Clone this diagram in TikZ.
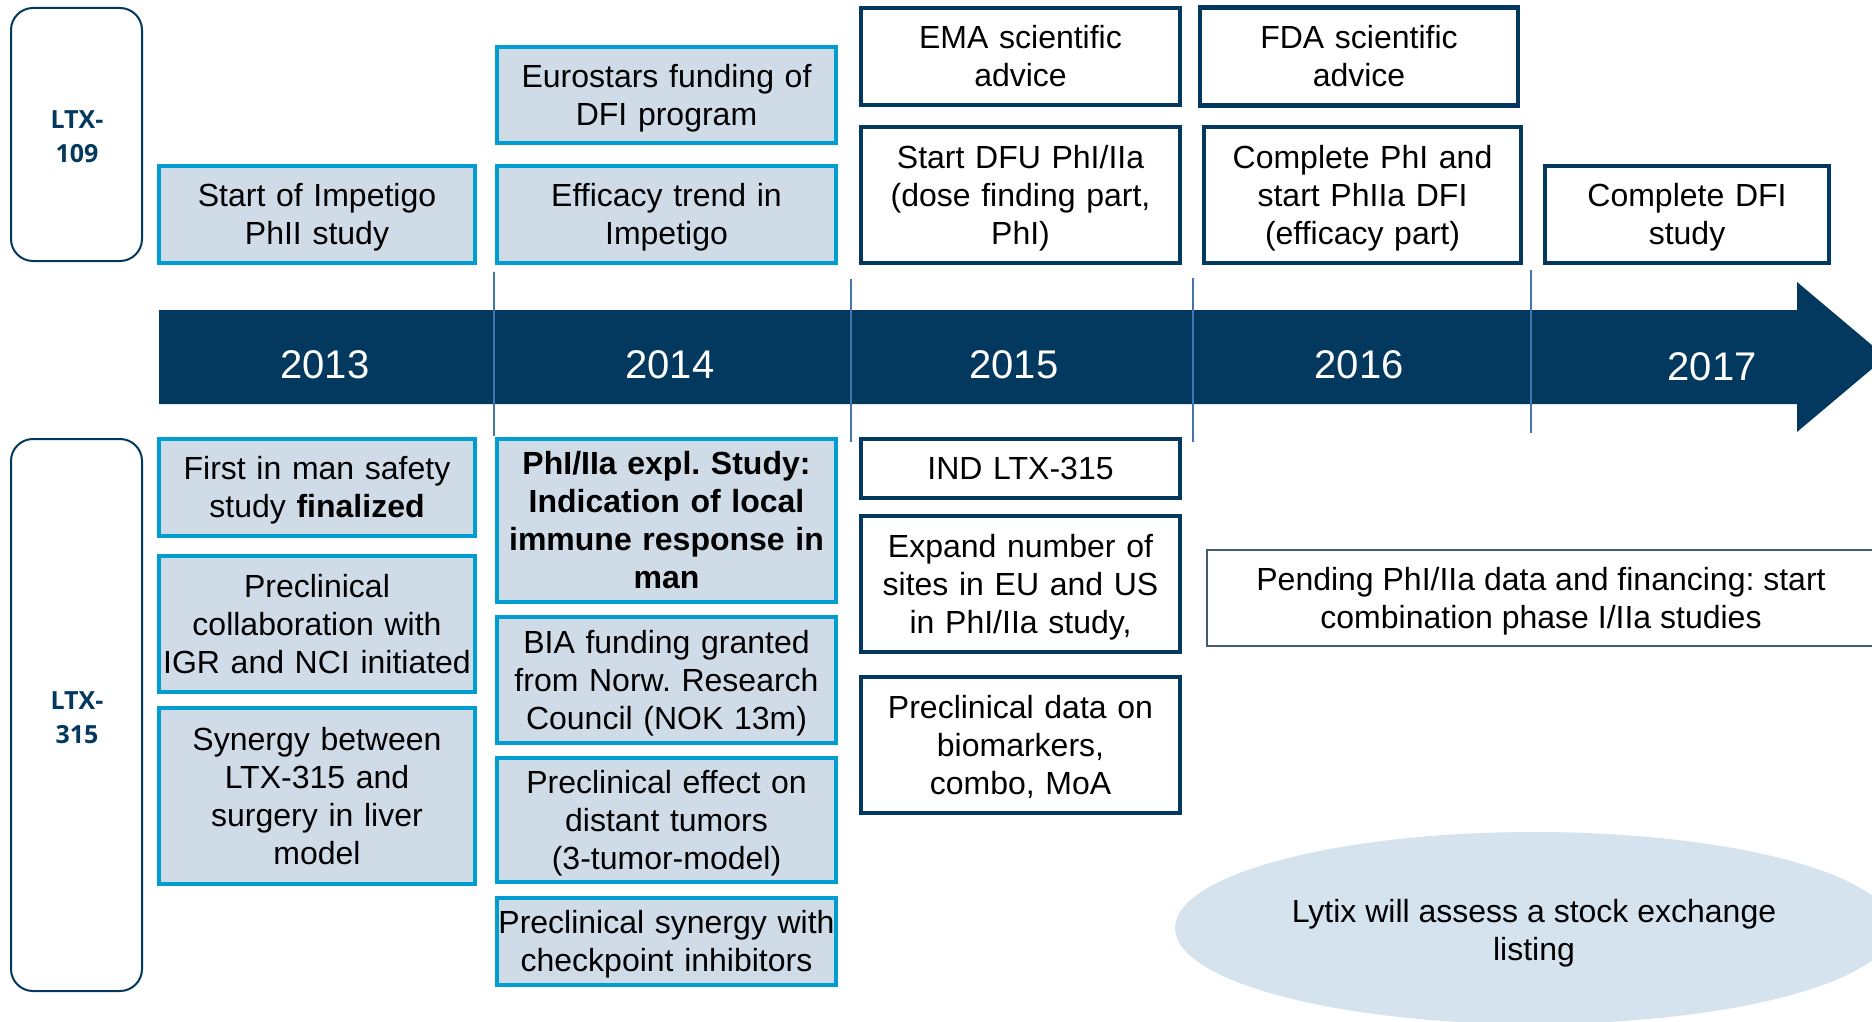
\documentclass[tikz,border=0pt]{standalone}
\usepackage{fontspec}
\setmainfont{Liberation Sans}
\newfontfamily\ltxfont{Open Sans}
\usetikzlibrary{shapes.geometric}
\definecolor{navy}{RGB}{3,57,94}
\definecolor{cyanline}{RGB}{0,157,208}
\definecolor{boxfill}{RGB}{207,220,232}
\definecolor{ovalfill}{RGB}{213,227,238}
\definecolor{divider}{RGB}{70,116,172}
\definecolor{thinedge}{RGB}{70,90,108}
\newcommand\bodyfont{\fontsize{32}{38}\selectfont\frenchspacing}
% struts with the ascent and descent of the text face, so lines sit as in a slide text box
\newcommand\topstrut{\rule{0pt}{0.905em}}
\newcommand\botstrut{\rule[-0.212em]{0pt}{0pt}}
\tikzset{
  x=1pt, y=-1pt,
  mile/.style={align=center, inner sep=0pt, font=\bodyfont, text=black,
    execute at begin node=\topstrut, execute at end node=\botstrut},
  cyanbox/.style={mile, draw=cyanline, line width=4.5pt, fill=boxfill},
  navybox/.style={mile, draw=navy, line width=4.5pt, fill=white},
  sized/.style 2 args={minimum width=#1pt, minimum height=#2pt, text width=#1pt},
  drugbox/.style={draw=navy, line width=2pt, rounded corners=22pt, fill=white},
  druglabel/.style={align=center, text=navy, font=\ltxfont\bfseries\fontsize{25}{34}\selectfont},
  yearlabel/.style={text=white, font=\fontsize{40}{48}\selectfont},
  divline/.style={draw=divider, line width=2.2pt},
}
\begin{document}
\begin{tikzpicture}
\useasboundingbox (0,0) rectangle (1872,1022);
\clip (0,0) rectangle (1872,1022);

% product lanes
\draw[drugbox] (11,8) rectangle (142,261);
\node[druglabel] (ltx109) at (77,137) {LTX-\\109};
\draw[drugbox] (11,439) rectangle (142,991);
\node[druglabel] (ltx315) at (77,718) {LTX-\\315};

% timeline arrow
\fill[navy] (159,310) -- (1797,310) -- (1797,282) -- (1886,357)
  -- (1797,432) -- (1797,404) -- (159,404) -- cycle;
\node[yearlabel] (y2013) at (325,365) {2013};
\node[yearlabel] (y2014) at (670,365) {2014};
\node[yearlabel] (y2015) at (1014,365) {2015};
\node[yearlabel] (y2016) at (1359,365) {2016};
\node[yearlabel] (y2017) at (1712,367) {2017};

% year separators
\draw[divline] (494,272) -- (494,436);
\draw[divline] (851,279) -- (851,442);
\draw[divline] (1193,278) -- (1193,442);
\draw[divline] (1531,270) -- (1531,433);

% LTX-109 milestones
\node[cyanbox, sized={316}{97}] (impetigo) at (317,214.5) {Start of Impetigo\\PhII study};
\node[cyanbox, sized={339}{96}] (eurostars) at (666.5,95) {Eurostars funding of\\DFI program};
\node[cyanbox, sized={339}{97}] (efficacy) at (666.5,214.5) {Efficacy trend in\\Impetigo};
\node[navybox, sized={319}{97}] (ema) at (1020.5,56.5) {EMA scientific\\advice};
\node[navybox, sized={319}{136}] (dfu) at (1020.5,195) {Start DFU PhI/IIa\\(dose finding part,\\PhI)};
\node[navybox, sized={318}{98}] (fda) at (1359,56.5) {FDA scientific\\advice};
\node[navybox, sized={317}{136}] (phcomplete) at (1362.5,195) {Complete PhI and\\start PhIIa DFI\\(efficacy part)};
\node[navybox, sized={284}{97}] (dficomplete) at (1687,214.5) {Complete DFI\\study};

% LTX-315 milestones
\node[cyanbox, sized={316}{97}] (fim) at (317,487.5) {First in man safety\\study \textbf{finalized}};
\node[cyanbox, sized={316}{136}] (collab) at (317,624) {Preclinical\\collaboration with\\IGR and NCI initiated};
\node[cyanbox, sized={316}{176}] (surgery) at (317,796) {Synergy between\\LTX-315 and\\surgery in liver\\model};
\node[cyanbox, sized={339}{163}, font=\bodyfont\bfseries] (expl) at (666.5,520.5) {PhI/IIa expl. Study:\\Indication of local\\immune response in\\man};
\node[cyanbox, sized={339}{126}] (bia) at (666.5,680) {BIA funding granted\\from Norw. Research\\Council (NOK 13m)};
\node[cyanbox, sized={339}{124}] (distant) at (666.5,820) {Preclinical effect on\\distant tumors\\(3-tumor-model)};
\node[cyanbox, sized={339}{87}] (checkpoint) at (666.5,941.5) {Preclinical synergy with\\checkpoint inhibitors};
\node[navybox, sized={319}{59}] (ind) at (1020.5,468.5) {IND LTX-315};
\node[navybox, sized={319}{136}] (expand) at (1020.5,584) {Expand number of\\sites in EU and US\\in PhI/IIa study,};
\node[navybox, sized={319}{136}] (biomarkers) at (1020.5,745) {Preclinical data on\\biomarkers,\\combo, MoA};

% outlook
\draw[thinedge, line width=1.5pt, fill=white] (1207,550) rectangle (1890,646);
\node[mile] (pending) at (1541,601) {Pending PhI/IIa data and financing: start\\combination phase I/IIa studies};
\fill[ovalfill] (1534,928) ellipse [x radius=359, y radius=96];
\node[mile] (listing) at (1534,933) {Lytix will assess a stock exchange\\listing};
\end{tikzpicture}
\end{document}
